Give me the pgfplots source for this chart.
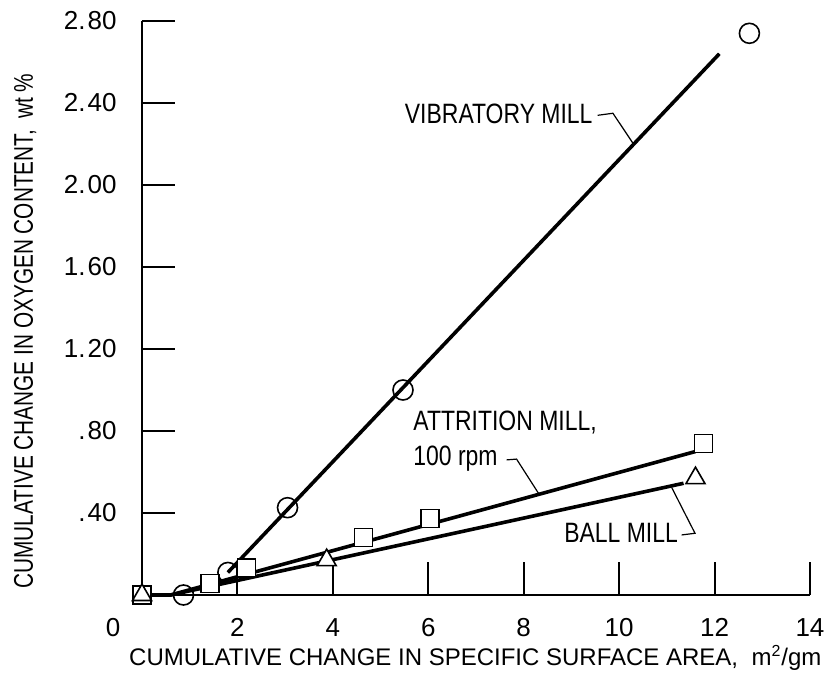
\documentclass[border=0pt]{standalone}
\usepackage{fontspec}
\setmainfont[FakeStretch=0.82]{Liberation Sans}
\newfontfamily\widefont{Liberation Sans}
\newfontfamily\ylabfont[FakeStretch=0.77]{Liberation Sans}
\usepackage{pgfplots}
\pgfplotsset{compat=1.18}
\begin{document}
\begin{tikzpicture}
\useasboundingbox (-71pt,-46pt) rectangle (341.5pt,297.5pt);
\begin{axis}[
  scale only axis, width=334pt, height=287pt,
  xmin=0, xmax=14, ymin=0, ymax=2.8,
  axis x line=bottom, axis y line=left,
  axis line style={-, line width=1pt},
  clip=false,
  xtick={2,4,6,8,10,12,14},
  ytick={0.4,0.8,1.2,1.6,2.0,2.4,2.8},
  yticklabels={.\kern1pt40,.\kern1pt80,1.\kern1pt20,1.\kern1pt60,2.\kern1pt00,2.\kern1pt40,2.\kern1pt80},
  tick align=inside,
  major tick length=16.5pt,
  tick style={line width=1pt, black},
  ticklabel style={font=\widefont\fontsize{13}{15}\selectfont},
  /pgf/number format/assume math mode=true,
  yticklabel style={inner sep=0pt, xshift=-12.5pt},
  xticklabel style={inner sep=0pt, yshift=-11.5pt},
  extra x ticks={0}, extra x tick labels={0},
  extra x tick style={tick style={draw=none}, xticklabel style={xshift=-14.5pt}},
  xlabel={CUMULATIVE CHANGE IN SPECIFIC SURFACE AREA,\ \ m\textsuperscript{2}/gm},
  ylabel={CUMULATIVE CHANGE IN OXYGEN CONTENT,\ \ wt \%},
  xlabel style={at={(axis description cs:0.499,-0.11)}, anchor=center, font=\widefont\fontsize{12}{14}\selectfont},
  ylabel style={at={(axis description cs:-0.175,0.46)}, anchor=center, font=\ylabfont\fontsize{13.5}{15}\selectfont},
]
% fitted lines
\addplot[black, line width=1.8pt] coordinates {(1.8,0.11) (12.1,2.64)};
\addplot[black, line width=1.8pt] coordinates {(0,0) (0.6,0.0) (11.6,0.70)};
\addplot[black, line width=1.8pt] coordinates {(0,0) (0.6,0.0) (11.35,0.545)};
% data points
\addplot[only marks, mark=o, mark size=5pt, mark options={fill=white, line width=0.8pt}] coordinates {
  (0.87,0) (1.8,0.11) (3.05,0.426) (5.47,1.0) (12.73,2.74)};
\addplot[only marks, mark=square*, mark size=4.5pt, mark options={fill=white, draw=black, line width=0.8pt}] coordinates {
  (0,0) (1.43,0.057) (2.19,0.133) (4.64,0.28) (6.04,0.374) (11.77,0.74)};
\addplot[only marks, mark=triangle*, mark size=5.5pt, mark options={fill=white, draw=black, line width=0.8pt}] coordinates {
  (0,0) (3.87,0.17) (11.6,0.57)};
% annotations
\node[anchor=mid east, inner sep=0pt, font=\fontsize{14}{16}\selectfont] at (axis cs:9.45,2.327) {VIBRATORY MILL};
\draw[line width=0.6pt] (axis cs:9.55,2.34) -- (axis cs:9.87,2.35) -- (axis cs:10.3,2.2);
\node[anchor=mid west, inner sep=0pt, font=\fontsize{14}{16}\selectfont] at (axis cs:5.68,0.829) {ATTRITION MILL,};
\node[anchor=mid west, inner sep=0pt, font=\fontsize{14}{16}\selectfont] at (axis cs:5.68,0.659) {100 rpm};
\draw[line width=0.6pt] (axis cs:7.64,0.659) -- (axis cs:7.85,0.663) -- (axis cs:8.31,0.496);
\node[anchor=mid east, inner sep=0pt, font=\fontsize{14}{16}\selectfont] at (axis cs:11.24,0.284) {BALL MILL};
\draw[line width=0.6pt] (axis cs:11.31,0.293) -- (axis cs:11.59,0.301) -- (axis cs:11.10,0.525);
\end{axis}
\end{tikzpicture}
\end{document}
